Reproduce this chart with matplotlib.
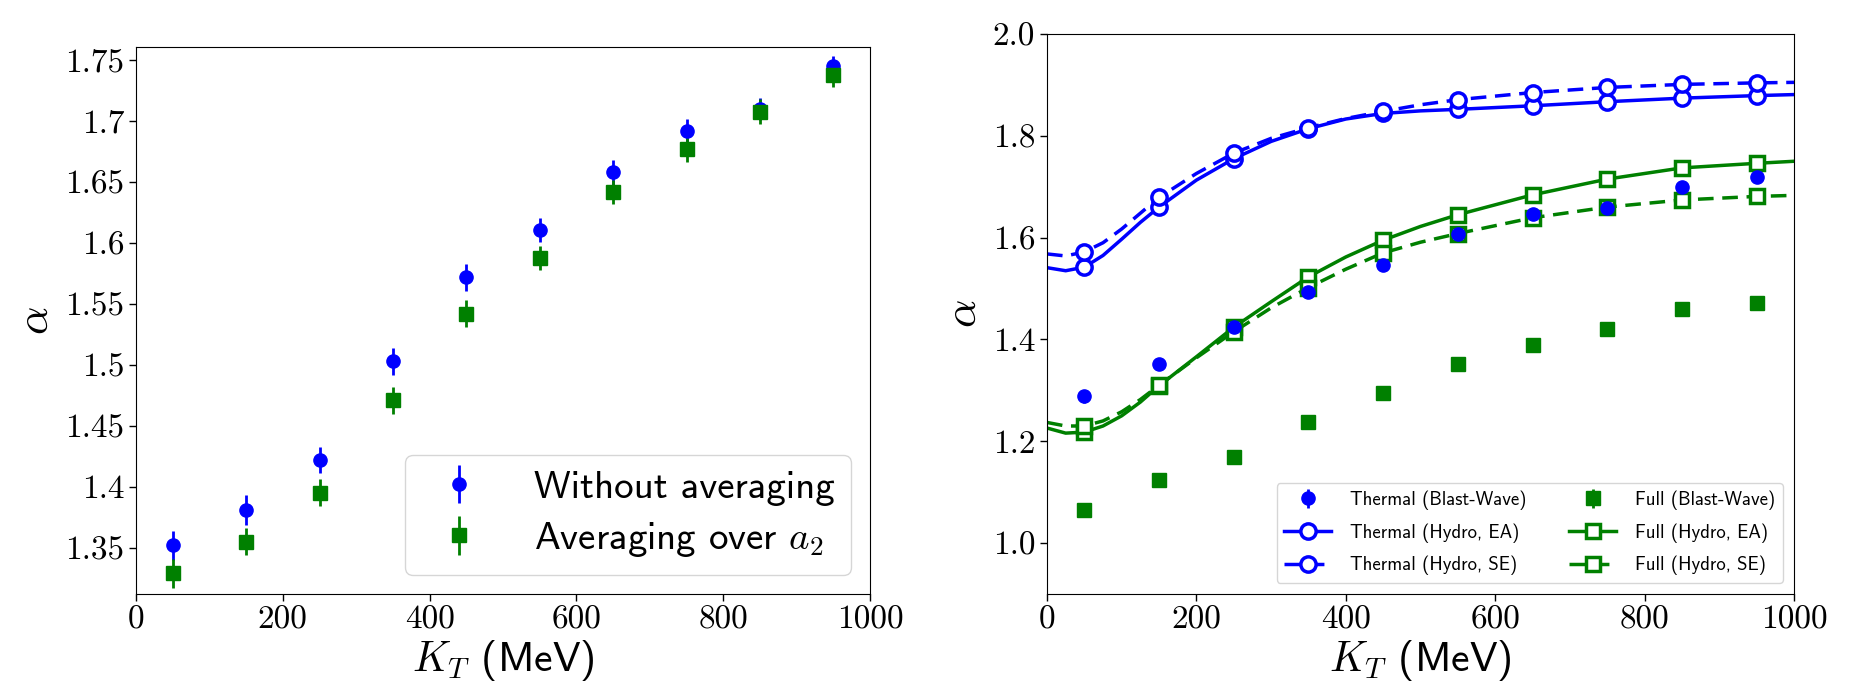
import matplotlib
matplotlib.use("Agg")
import matplotlib.pyplot as plt
from matplotlib.lines import Line2D

plt.rcParams["mathtext.fontset"] = "cm"
plt.rcParams["axes.formatter.use_mathtext"] = True

BLUE = "blue"
GREEN = "green"

# ---- left panel: alpha vs KT, with / without averaging over a2
kt = [50, 150, 250, 350, 450, 550, 650, 750, 850, 950]
alpha_noavg = [1.352, 1.381, 1.422, 1.503, 1.572, 1.611, 1.658, 1.692, 1.710, 1.745]
err_noavg = [0.012, 0.012, 0.011, 0.011, 0.011, 0.010, 0.010, 0.010, 0.009, 0.009]
alpha_avg = [1.329, 1.355, 1.395, 1.471, 1.542, 1.588, 1.642, 1.677, 1.708, 1.738]
err_avg = [0.012, 0.011, 0.011, 0.011, 0.011, 0.010, 0.010, 0.010, 0.010, 0.010]
left_yticks = [1.35, 1.40, 1.45, 1.50, 1.55, 1.60, 1.65, 1.70, 1.75]
left_yticklabels = ["1.35", "1.4", "1.45", "1.5", "1.55", "1.6", "1.65", "1.7", "1.75"]

# ---- right panel: blast-wave points and hydro curves
bw_thermal = [1.288, 1.351, 1.425, 1.494, 1.546, 1.607, 1.647, 1.658, 1.700, 1.720]
bw_thermal_err = [0.012, 0.005, 0.005, 0.005, 0.005, 0.005, 0.005, 0.005, 0.005, 0.005]
bw_full = [1.065, 1.124, 1.170, 1.237, 1.294, 1.351, 1.390, 1.420, 1.460, 1.471]
bw_full_err = [0.012, 0.005, 0.005, 0.005, 0.005, 0.005, 0.005, 0.005, 0.005, 0.005]

# hydro curves read along KT (markers sit at the kt points above)
kt_curve = [0, 25, 50, 75, 100, 125, 150, 200, 250, 300, 350, 400, 450, 500, 550,
            650, 750, 850, 950, 1000]
thermal_ea = [1.541, 1.535, 1.542, 1.565, 1.597, 1.630, 1.660, 1.713, 1.755, 1.789,
              1.814, 1.833, 1.844, 1.849, 1.852, 1.859, 1.867, 1.874, 1.879, 1.881]
thermal_se = [1.568, 1.564, 1.572, 1.590, 1.617, 1.648, 1.679, 1.726, 1.766, 1.795,
              1.816, 1.834, 1.848, 1.861, 1.871, 1.885, 1.895, 1.901, 1.904, 1.905]
full_ea = [1.226, 1.216, 1.218, 1.230, 1.250, 1.277, 1.309, 1.366, 1.424, 1.474,
           1.523, 1.562, 1.595, 1.622, 1.645, 1.684, 1.715, 1.737, 1.746, 1.750]
full_se = [1.237, 1.230, 1.230, 1.240, 1.258, 1.282, 1.310, 1.364, 1.415, 1.462,
           1.502, 1.538, 1.570, 1.591, 1.608, 1.639, 1.660, 1.674, 1.681, 1.683]
right_yticks = [1.0, 1.2, 1.4, 1.6, 1.8, 2.0]
xticks = [0, 200, 400, 600, 800, 1000]

TICK_FS = 24
LABEL_FS = 30
W, H = 1852, 681


def _style_axes(ax):
    ax.set_xlim(0, 1000)
    ax.set_xticks(xticks)
    ax.set_xticklabels([str(t) for t in xticks], fontfamily="cmr10", fontsize=TICK_FS)
    ax.tick_params(direction="out", length=5, width=1)
    ax.set_xlabel(r"$K_T$ (MeV)", fontfamily="cmss10", fontsize=LABEL_FS, labelpad=2)
    ax.set_ylabel(r"$\alpha$", fontsize=32, labelpad=6)


fig = plt.figure(figsize=(W / 100, H / 100), dpi=100)

# left panel
ax1 = fig.add_axes([136 / W, (H - 594) / H, 734 / W, 547 / H])
ax1.errorbar(kt, alpha_noavg, yerr=err_noavg, fmt="o", color=BLUE, ms=9.5,
             elinewidth=2, capsize=0, label="Without averaging")
ax1.errorbar(kt, alpha_avg, yerr=err_avg, fmt="s", color=GREEN, ms=10,
             elinewidth=2, capsize=0, label=r"Averaging over $a_2$")
ax1.set_ylim(1.312, 1.761)
ax1.set_yticks(left_yticks)
ax1.set_yticklabels(left_yticklabels, fontfamily="cmr10", fontsize=TICK_FS)
_style_axes(ax1)
ax1.legend(loc="lower right", prop={"family": "cmss10", "size": 28},
           handlelength=2.0, handletextpad=0.93, borderpad=0.4, labelspacing=0.37,
           fancybox=True)

# right panel
ax2 = fig.add_axes([1047 / W, (H - 594) / H, 747 / W, 560 / H])
mark_idx = [kt_curve.index(k) for k in kt]
ax2.plot(kt_curve, thermal_ea, "-", color=BLUE, lw=2.5)
ax2.plot(kt_curve, thermal_se, "--", color=BLUE, lw=2.5, dashes=(4.5, 2.5))
ax2.plot(kt_curve, full_ea, "-", color=GREEN, lw=2.5)
ax2.plot(kt_curve, full_se, "--", color=GREEN, lw=2.5, dashes=(4.5, 2.5))
for ys, mk, col in [(thermal_ea, "o", BLUE), (thermal_se, "o", BLUE),
                    (full_ea, "s", GREEN), (full_se, "s", GREEN)]:
    ax2.plot([kt_curve[i] for i in mark_idx], [ys[i] for i in mark_idx], ls="none",
             marker=mk, ms=11 if mk == "o" else 10.5, mfc="white", mec=col, mew=2.5)
ax2.errorbar(kt, bw_thermal, yerr=bw_thermal_err, fmt="o", color=BLUE, ms=9.5,
             elinewidth=2, capsize=0, zorder=4)
ax2.errorbar(kt, bw_full, yerr=bw_full_err, fmt="s", color=GREEN, ms=10,
             elinewidth=2, capsize=0, zorder=4)
ax2.set_ylim(0.9, 2.0)
ax2.set_yticks(right_yticks)
ax2.set_yticklabels([f"{t:.1f}" for t in right_yticks], fontfamily="cmr10", fontsize=TICK_FS)
_style_axes(ax2)

# legend proxies (same look as the plotted series)
h_bw_th = ax2.errorbar([], [], yerr=[], fmt="o", color=BLUE, ms=9.5, elinewidth=2)
h_bw_fu = ax2.errorbar([], [], yerr=[], fmt="s", color=GREEN, ms=10, elinewidth=2)
h_th_ea = Line2D([], [], color=BLUE, lw=2.5, marker="o", ms=11, mfc="white", mew=2.5)
h_th_se = Line2D([], [], color=BLUE, lw=2.5, ls="--", dashes=(4.5, 2.5), marker="o",
                 ms=11, mfc="white", mew=2.5)
h_fu_ea = Line2D([], [], color=GREEN, lw=2.5, marker="s", ms=10.5, mfc="white", mew=2.5)
h_fu_se = Line2D([], [], color=GREEN, lw=2.5, ls="--", dashes=(4.5, 2.5), marker="s",
                 ms=10.5, mfc="white", mew=2.5)
ax2.legend([h_bw_th, h_th_ea, h_th_se, h_bw_fu, h_fu_ea, h_fu_se],
           ["Thermal (Blast-Wave)", "Thermal (Hydro, EA)", "Thermal (Hydro, SE)",
            "Full (Blast-Wave)", "Full (Hydro, EA)", "Full (Hydro, SE)"],
           loc="lower right", ncol=2, prop={"family": "cmss10", "size": 13.5},
           handlelength=2.5, handletextpad=1.0, labelspacing=0.7, columnspacing=2.3,
           borderaxespad=0.6)

fig.savefig("out.png", dpi=100)
